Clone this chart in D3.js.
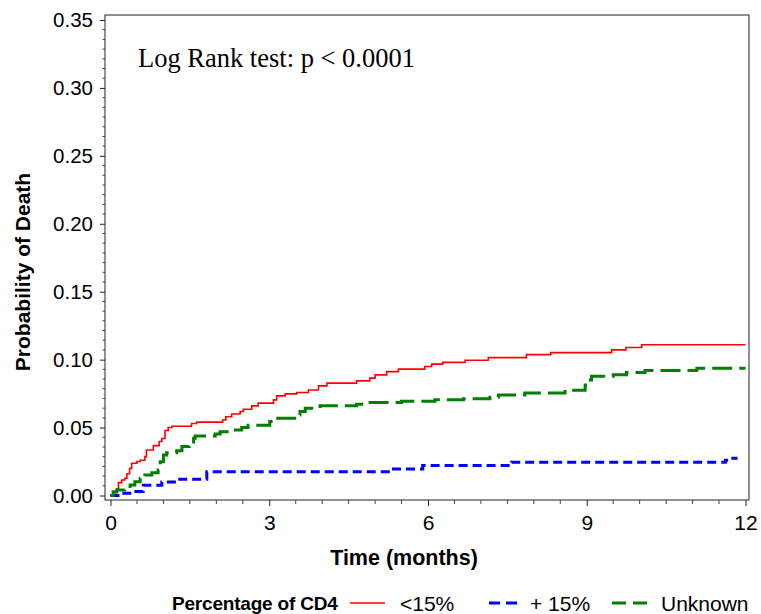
<!DOCTYPE html>
<html>
<head>
<meta charset="utf-8">
<script src="https://cdn.jsdelivr.net/npm/d3@7"></script>
<style>
  html, body { margin: 0; padding: 0; background: #fff; }
  svg { display: block; }
</style>
</head>
<body>
<svg id="chart" width="761" height="614"></svg>
<script>
// ---- data ----
const seriesNames = ["<15%", "+ 15%", "Unknown"];
const redT = [0,0.05,0.12,0.15,0.21,0.27,0.31,0.36,0.40,0.50,0.56,0.65,0.68,0.81,0.92,0.97,1.03,1.09,1.16,1.53,1.63,2.12,2.18,2.29,2.45,2.51,2.67,2.79,3.08,3.14,3.30,3.52,3.74,3.93,4.09,4.65,4.90,5.00,5.22,5.44,5.94,6.07,6.28,6.70,7.14,7.86,8.32,9.47,9.74,10.04,12];
const redP = [0,0.002,0.005,0.0095,0.0114,0.0127,0.016,0.020,0.0237,0.025,0.026,0.0286,0.0335,0.0367,0.0397,0.042,0.0478,0.050,0.051,0.053,0.054,0.0556,0.058,0.060,0.0618,0.0635,0.066,0.068,0.0704,0.0733,0.0748,0.0758,0.0777,0.0807,0.0827,0.0844,0.0864,0.0888,0.0912,0.093,0.095,0.0967,0.098,0.0996,0.1015,0.1037,0.1052,0.1072,0.1089,0.111,0.111];
const blueT = [0,0.18,0.45,0.62,0.97,1.25,1.82,5.25,5.9,7.58,11.62,11.7,11.85];
const blueP = [0,0.0016,0.003,0.0075,0.010,0.012,0.0175,0.0195,0.022,0.0245,0.026,0.0274,0.0274];
const greenT = [0,0.05,0.12,0.27,0.37,0.46,0.56,0.65,0.78,0.90,0.94,1.00,1.06,1.25,1.35,1.49,1.57,1.60,1.98,2.07,2.29,2.48,2.60,3.01,3.08,3.52,3.58,3.68,3.96,4.65,4.78,5.50,6.13,6.67,7.17,7.33,7.83,8.59,8.68,8.97,9.03,9.09,9.50,9.75,10.10,11.08,12];
const greenP = [0,0.0028,0.004,0.0053,0.0077,0.0102,0.0127,0.0151,0.0168,0.0188,0.0249,0.0298,0.0315,0.033,0.036,0.0372,0.0421,0.0438,0.0453,0.047,0.0483,0.050,0.0517,0.0544,0.0569,0.0593,0.0618,0.0643,0.066,0.0672,0.0684,0.0693,0.0704,0.0713,0.0724,0.074,0.0755,0.0765,0.0775,0.0814,0.0851,0.0878,0.0888,0.0905,0.092,0.0937,0.0937];
const xTicks = [0, 3, 6, 9, 12];
const yTicks = [0, 0.05, 0.10, 0.15, 0.20, 0.25, 0.30, 0.35];
const xTitle = "Time (months)";
const yTitle = "Probability of Death";
const legendTitle = "Percentage of CD4";
const annotation = "Log Rank test: p < 0.0001";

// ---- layout ----
const svg = d3.select("#chart");
const frame = {left: 105, right: 749, top: 15, bottom: 500};
const x = d3.scaleLinear().domain([0, 12]).range([110.5, 745.5]);
const y = d3.scaleLinear().domain([0, 0.35]).range([495.5, 20]);
const sans = "Arial, 'Liberation Sans', sans-serif";

const series = [
  {name: seriesNames[0], t: redT, p: redP, color: "#ff0000", width: 1.6, dash: null, legDash: null},
  {name: seriesNames[1], t: blueT, p: blueP, color: "#0000ff", width: 3, dash: "9,5", legDash: "11,6"},
  {name: seriesNames[2], t: greenT, p: greenP, color: "#008000", width: 3, dash: "20,7", legDash: "14,7"}
];

// frame
svg.append("rect")
  .attr("x", frame.left).attr("y", frame.top)
  .attr("width", frame.right - frame.left).attr("height", frame.bottom - frame.top)
  .attr("fill", "none").attr("stroke", "#222").attr("stroke-width", 1);

// x axis
const xAxis = d3.axisBottom(x).tickValues(xTicks).tickFormat(d3.format("d")).tickSize(6).tickPadding(9);
const gx = svg.append("g").attr("transform", `translate(0,${frame.bottom})`).call(xAxis);
gx.select(".domain").remove();
gx.selectAll("text").attr("font-family", sans).attr("font-size", 21).attr("fill", "#000");
gx.selectAll("line").attr("stroke", "#222");
const xMinor = d3.range(0, 12.01, 0.5).filter(v => v % 3 !== 0);
svg.append("g").selectAll("line").data(xMinor).join("line")
  .attr("x1", d => x(d)).attr("x2", d => x(d))
  .attr("y1", frame.bottom).attr("y2", frame.bottom + 4)
  .attr("stroke", "#444");

// y axis
const yAxis = d3.axisLeft(y).tickValues(yTicks).tickFormat(d3.format(".2f")).tickSize(5).tickPadding(7);
const gy = svg.append("g").attr("transform", `translate(${frame.left},0)`).call(yAxis);
gy.select(".domain").remove();
gy.selectAll("text").attr("font-family", sans).attr("font-size", 20.5).attr("fill", "#000");
gy.selectAll("line").attr("stroke", "#222");
const yMinor = [];
for (let i = 0; i < yTicks.length - 1; i++) {
  for (let k = 1; k < 7; k++) yMinor.push(yTicks[i] + (yTicks[i+1] - yTicks[i]) * k / 7);
}
svg.append("g").selectAll("line").data(yMinor).join("line")
  .attr("x1", frame.left - 2.5).attr("x2", frame.left)
  .attr("y1", d => y(d)).attr("y2", d => y(d))
  .attr("stroke", "#444");

// curves
const line = d3.line().curve(d3.curveStepAfter).x(d => x(d[0])).y(d => y(d[1]));
series.forEach(s => {
  const pts = s.t.map((t, i) => [t, s.p[i]]);
  svg.append("path").datum(pts)
    .attr("d", line)
    .attr("fill", "none")
    .attr("stroke", s.color)
    .attr("stroke-width", s.width)
    .attr("stroke-dasharray", s.dash);
});

// annotation
svg.append("text").attr("x", 138).attr("y", 67)
  .attr("font-family", "'Times New Roman', 'Liberation Serif', serif").attr("font-size", 26.5)
  .text(annotation);

// axis titles
svg.append("text").attr("x", 404).attr("y", 565).attr("text-anchor", "middle")
  .attr("font-family", sans).attr("font-size", 21.5).attr("font-weight", "bold")
  .text(xTitle);
svg.append("text").attr("transform", "translate(30,272) rotate(-90)").attr("text-anchor", "middle")
  .attr("font-family", sans).attr("font-size", 21).attr("font-weight", "bold")
  .text(yTitle);

// legend
const legY = 603;
svg.append("text").attr("x", 172).attr("y", legY + 7)
  .attr("font-family", sans).attr("font-size", 19).attr("font-weight", "bold")
  .attr("letter-spacing", -0.2)
  .text(legendTitle);
const legPos = [{x0: 350, x1: 385, tx: 400}, {x0: 489, x1: 520, tx: 530}, {x0: 612, x1: 648, tx: 661}];
series.forEach((s, i) => {
  const lp = legPos[i];
  svg.append("line").attr("x1", lp.x0).attr("x2", lp.x1).attr("y1", legY).attr("y2", legY)
    .attr("stroke", s.color).attr("stroke-width", s.width).attr("stroke-dasharray", s.legDash);
  svg.append("text").attr("x", lp.tx).attr("y", legY + 8)
    .attr("font-family", sans).attr("font-size", 21)
    .text(s.name);
});
</script>
</body>
</html>
